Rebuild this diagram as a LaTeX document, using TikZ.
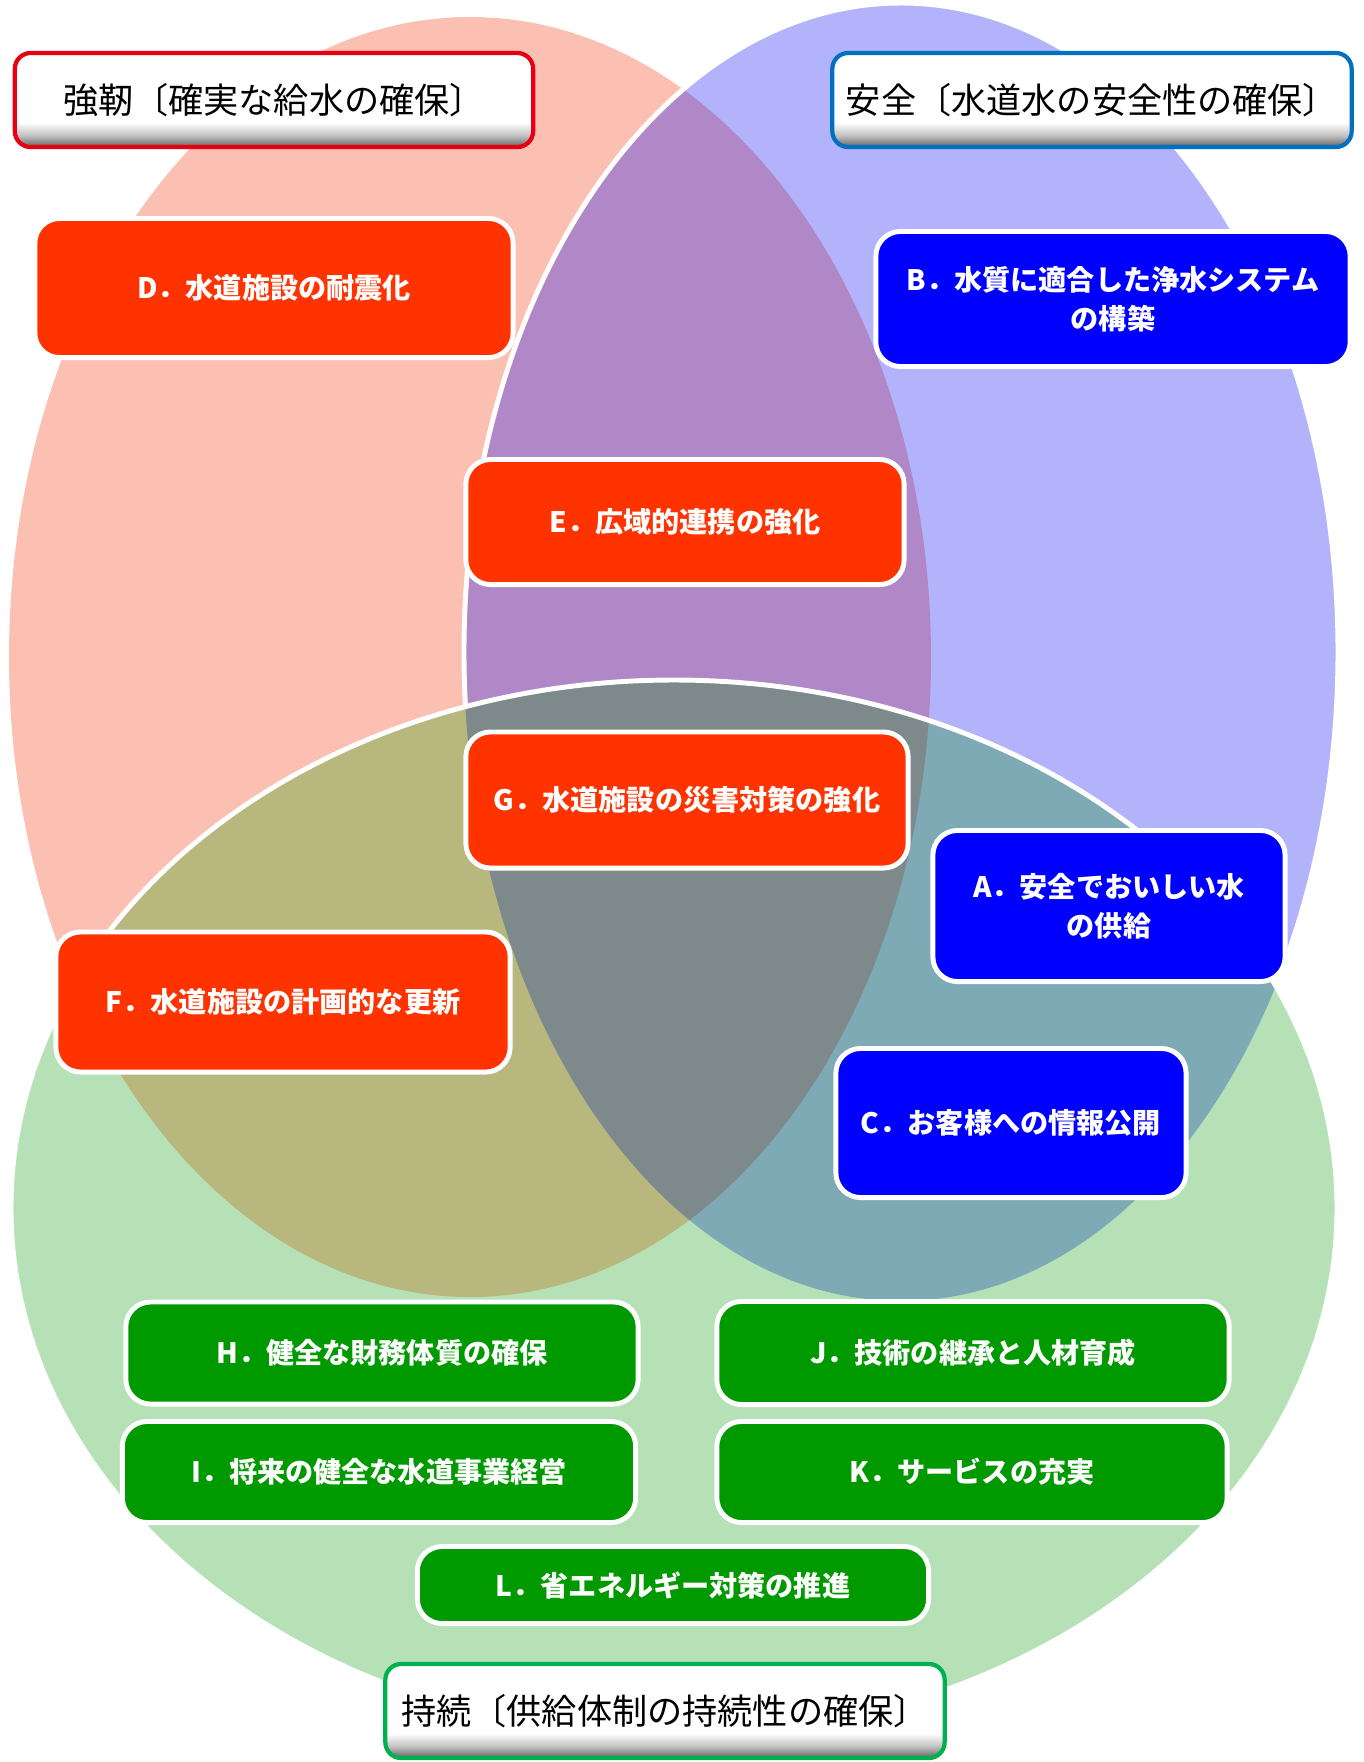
\documentclass[tikz,border=0pt]{standalone}
\usepackage{fontspec}
\setmainfont{Noto Sans CJK JP}
\definecolor{redset}{HTML}{FCC0B2}
\definecolor{blueset}{HTML}{B3B3FB}
\definecolor{greenset}{HTML}{B6E1B6}
\definecolor{redblue}{HTML}{B088C8}
\definecolor{redgreen}{HTML}{B7B77E}
\definecolor{bluegreen}{HTML}{7EAAB5}
\definecolor{allthree}{HTML}{7E898B}
\definecolor{redgoal}{HTML}{FF3300}
\definecolor{bluegoal}{HTML}{0000FF}
\definecolor{greengoal}{HTML}{009900}
\definecolor{redline}{HTML}{E60012}
\definecolor{blueline}{HTML}{0070C0}
\definecolor{greenline}{HTML}{00B050}
\pgfdeclareverticalshading{titleshade}{100bp}{color(0bp)=(black!62); color(25bp)=(black!62);
  color(31bp)=(black!25); color(38bp)=(white); color(100bp)=(white)}
\def\redpath{(470,657) ellipse [x radius=461, y radius=640]}
\def\bluepath{(901,652) ellipse [x radius=437, y radius=649]}
\def\greenpath{(674,1208) ellipse [x radius=663, y radius=528]}
\tikzset{
  goal/.style={rounded corners=7pt, draw=white, line width=1.4pt,
    text=white, align=center, inner sep=0pt,
    font=\bfseries\fontsize{8}{11.2}\selectfont},
  titlebox/.style={rounded corners=4.5pt, line width=1.2pt, shading=titleshade,
    inner sep=0pt, font=\fontsize{10}{12}\selectfont,
    minimum height=0.94cm}
}
\begin{document}
\begin{tikzpicture}[x=0.01cm,y=-0.01cm]
  \useasboundingbox (0,0) rectangle (1364,1762);
  % the three sets
  \fill[redset] \redpath;
  \fill[blueset] \bluepath;
  \begin{scope}
    \clip \redpath;
    \fill[redblue] \bluepath;
  \end{scope}
  \draw[white, line width=1.4pt] \bluepath;
  \fill[greenset] \greenpath;
  \begin{scope}
    \clip \greenpath;
    \fill[redgreen] \redpath;
    \fill[bluegreen] \bluepath;
    \clip \redpath;
    \fill[allthree] \bluepath;
  \end{scope}
  \draw[white, line width=1.4pt] \greenpath;
  % titles
  \node[titlebox, draw=redline, minimum width=5.18cm] (strong) at (274,100)
    {強靭〔確実な給水の確保〕};
  \node[titlebox, draw=blueline, minimum width=5.19cm] (safe) at (1092,100)
    {安全〔水道水の安全性の確保〕};
  \node[titlebox, draw=greenline, minimum width=5.59cm] (last) at (665,1711)
    {持続〔供給体制の持続性の確保〕};
  % goals
  \node[goal, fill=redgoal, minimum width=4.78cm, minimum height=1.39cm] (D) at (274,288)
    {D．水道施設の耐震化};
  \node[goal, fill=bluegoal, minimum width=4.74cm, minimum height=1.35cm] (B) at (1113,299)
    {B．水質に適合した浄水システム\\の構築};
  \node[goal, fill=redgoal, minimum width=4.38cm, minimum height=1.25cm] (E) at (685,522)
    {E．広域的連携の強化};
  \node[goal, fill=redgoal, minimum width=4.42cm, minimum height=1.36cm] (G) at (687,800)
    {G．水道施設の災害対策の強化};
  \node[goal, fill=bluegoal, minimum width=3.52cm, minimum height=1.51cm] (A) at (1109,906)
    {A．安全でおいしい水\\の供給};
  \node[goal, fill=redgoal, minimum width=4.54cm, minimum height=1.40cm] (F) at (283,1002)
    {F．水道施設の計画的な更新};
  \node[goal, fill=bluegoal, minimum width=3.50cm, minimum height=1.49cm] (C) at (1011,1123)
    {C．お客様への情報公開};
  \node[goal, fill=greengoal, minimum width=5.12cm, minimum height=1.02cm] (H) at (382,1353)
    {H．健全な財務体質の確保};
  \node[goal, fill=greengoal, minimum width=5.12cm, minimum height=1.03cm] (J) at (973,1353)
    {J．技術の継承と人材育成};
  \node[goal, fill=greengoal, minimum width=5.13cm, minimum height=1.01cm] (I) at (379,1472)
    {I．将来の健全な水道事業経営};
  \node[goal, fill=greengoal, minimum width=5.10cm, minimum height=1.01cm] (K) at (972,1472)
    {K．サービスの充実};
  \node[goal, fill=greengoal, minimum width=5.11cm, minimum height=0.77cm] (L) at (673,1585)
    {L．省エネルギー対策の推進};
\end{tikzpicture}
\end{document}
